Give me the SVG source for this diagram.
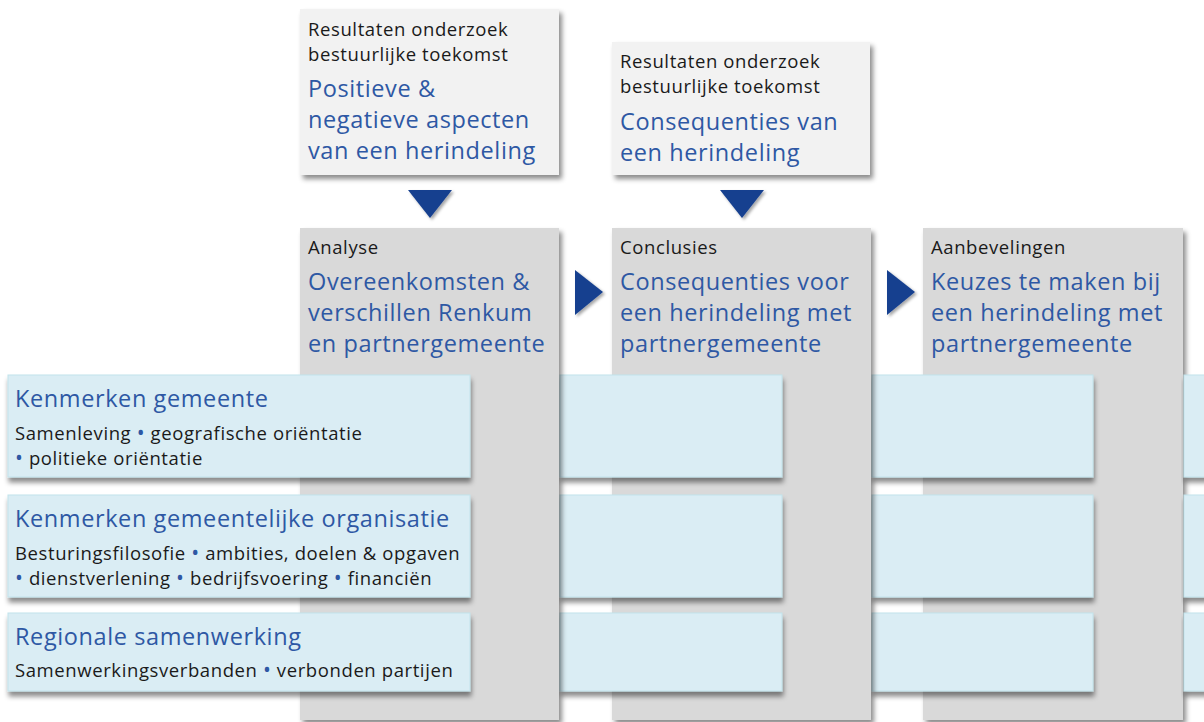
<svg xmlns="http://www.w3.org/2000/svg" width="1204" height="722" viewBox="0 0 1204 722">
<style>
.box{fill:#f2f2f2;filter:url(#sh)}
.col{fill:#d9d9d9;filter:url(#sh)}
.band{fill:#daedf4;stroke:#c2e3ec;stroke-width:1;filter:url(#sh3)}
.tri{fill:#17408f;filter:url(#sh2)}
.k{font-family:"Open Sans","Noto Sans",sans-serif;font-size:18.5px;letter-spacing:0.6px;fill:#1a1a1a}
.b{font-family:"Open Sans","Noto Sans",sans-serif;font-size:23.5px;letter-spacing:0.6px;fill:#2e58a4}
.d{fill:#2e58a4;font-size:21px}
</style>
<defs>
<filter id="sh" x="-10%" y="-10%" width="125%" height="125%">
<feDropShadow dx="3" dy="4" stdDeviation="2.5" flood-color="#000" flood-opacity="0.45"/>
</filter>
<filter id="sh3" x="-10%" y="-10%" width="125%" height="130%">
<feDropShadow dx="1" dy="5" stdDeviation="2.5" flood-color="#000" flood-opacity="0.45"/>
</filter>
<filter id="sh2" x="-30%" y="-30%" width="160%" height="160%">
<feDropShadow dx="2" dy="2" stdDeviation="1.5" flood-color="#000" flood-opacity="0.35"/>
</filter>
</defs>

<g id="top1">
<rect class="box" x="300" y="9" width="259" height="166"/>
<text class="k" x="308" y="36">Resultaten onderzoek</text>
<text class="k" x="308" y="61">bestuurlijke toekomst</text>
<text class="b" x="308" y="97">Positieve &amp;</text>
<text class="b" x="308" y="128">negatieve aspecten</text>
<text class="b" x="308" y="159">van een herindeling</text>
</g>
<g id="top2">
<rect class="box" x="612" y="42" width="258" height="133"/>
<text class="k" x="620" y="68">Resultaten onderzoek</text>
<text class="k" x="620" y="93">bestuurlijke toekomst</text>
<text class="b" x="620" y="130">Consequenties van</text>
<text class="b" x="620" y="161">een herindeling</text>
</g>

<g id="connectors">
<polygon class="tri" points="408,190 452,190 430,218"/>
<polygon class="tri" points="720,190 764,190 742,218"/>
<polygon class="tri" points="575,270 575,315 603,292"/>
<polygon class="tri" points="887,270 887,315 915,292"/>
</g>

<g id="col3">
<rect class="col" x="923" y="228" width="260" height="492"/>
<text class="k" x="931" y="254">Aanbevelingen</text>
<text class="b" x="931" y="290">Keuzes te maken bij</text>
<text class="b" x="931" y="321">een herindeling met</text>
<text class="b" x="931" y="352">partnergemeente</text>
</g>
<g id="band-seg3">
<rect class="band" x="1184" y="375" width="30" height="102"/>
<rect class="band" x="1184" y="495" width="30" height="102"/>
<rect class="band" x="1184" y="613" width="30" height="78"/>
</g>
<g id="band-seg2b">
<rect class="band" x="872" y="375" width="221" height="102"/>
<rect class="band" x="872" y="495" width="221" height="102"/>
<rect class="band" x="872" y="613" width="221" height="78"/>
</g>
<g id="col2">
<rect class="col" x="612" y="228" width="259" height="492"/>
<text class="k" x="620" y="254">Conclusies</text>
<text class="b" x="620" y="290">Consequenties voor</text>
<text class="b" x="620" y="321">een herindeling met</text>
<text class="b" x="620" y="352">partnergemeente</text>
</g>
<g id="band-seg2">
<rect class="band" x="560" y="375" width="222" height="102"/>
<rect class="band" x="560" y="495" width="222" height="102"/>
<rect class="band" x="560" y="613" width="222" height="78"/>
</g>
<g id="col1">
<rect class="col" x="300" y="228" width="259" height="492"/>
<text class="k" x="308" y="254">Analyse</text>
<text class="b" x="308" y="290">Overeenkomsten &amp;</text>
<text class="b" x="308" y="321">verschillen Renkum</text>
<text class="b" x="308" y="352">en partnergemeente</text>
</g>

<g id="kenmerken-gemeente">
<rect class="band" x="8" y="375" width="462" height="102"/>
<text class="b" x="15" y="407">Kenmerken gemeente</text>
<text class="k" x="15" y="440">Samenleving <tspan class="d">•</tspan> geografische oriëntatie</text>
<text class="k" x="15" y="465"><tspan class="d">•</tspan> politieke oriëntatie</text>
</g>
<g id="kenmerken-organisatie">
<rect class="band" x="8" y="495" width="462" height="102"/>
<text class="b" x="15" y="527">Kenmerken gemeentelijke organisatie</text>
<text class="k" x="15" y="560">Besturingsfilosofie <tspan class="d">•</tspan> ambities, doelen &amp; opgaven</text>
<text class="k" x="15" y="585"><tspan class="d">•</tspan> dienstverlening <tspan class="d">•</tspan> bedrijfsvoering <tspan class="d">•</tspan> financiën</text>
</g>
<g id="regionale-samenwerking">
<rect class="band" x="8" y="613" width="462" height="78"/>
<text class="b" x="15" y="645">Regionale samenwerking</text>
<text class="k" x="15" y="677">Samenwerkingsverbanden <tspan class="d">•</tspan> verbonden partijen</text>
</g>
</svg>
